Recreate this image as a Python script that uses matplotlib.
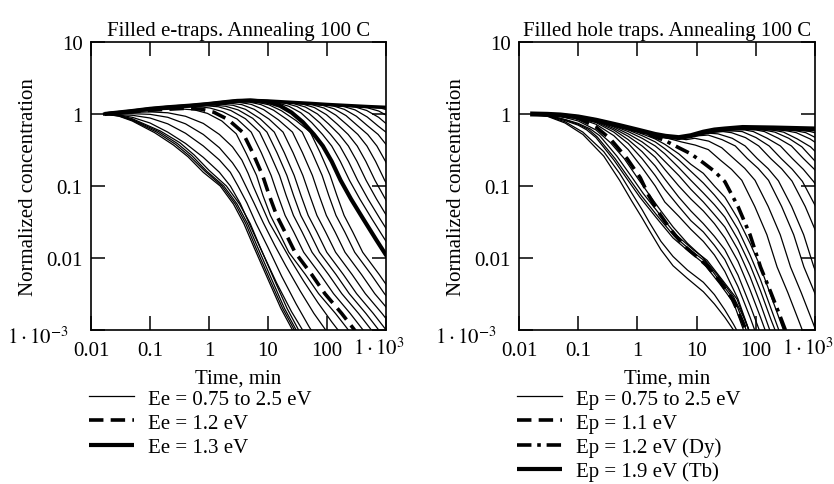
import matplotlib
matplotlib.use("Agg")
import matplotlib.pyplot as plt
from matplotlib.lines import Line2D
import matplotlib.ticker as mtick
import matplotlib.transforms as mtrans

plt.rcParams['font.family'] = ['Liberation Serif', 'DejaVu Serif']
plt.rcParams['mathtext.fontset'] = 'stix'

FS = 15

# ---------------- left panel: filled e-traps (t in min, normalized conc.) ----------------
e_env = [(0.017, 1.0), (0.03, 1.05), (0.05, 1.10), (0.1, 1.18), (0.2, 1.24), (0.5, 1.31), (1, 1.38),
         (2, 1.47), (3, 1.52), (5, 1.55), (10, 1.52), (20, 1.47), (50, 1.41), (100, 1.36),
         (200, 1.32), (500, 1.27), (1000, 1.24)]
e_top = [(0.017, 1.0), (0.05, 1.1), (0.1, 1.18), (0.2, 1.24), (0.5, 1.31), (1, 1.38), (2, 1.47)]

# low-energy bunch
e01 = [(0.017, 1.0), (0.03, 0.93), (0.05, 0.8), (0.12, 0.55), (0.25, 0.37), (0.44, 0.255), (0.8, 0.155),
       (1.55, 0.1), (2.6, 0.056), (3.9, 0.03), (5.8, 0.014), (10.4, 0.0047), (16.5, 0.002), (26, 0.001), (40, 0.0005)]
e02 = [(0.017, 1.0), (0.03, 0.94), (0.05, 0.82), (0.13, 0.56), (0.27, 0.38), (0.47, 0.26), (0.86, 0.16),
       (1.66, 0.1), (2.8, 0.056), (4.2, 0.03), (6.2, 0.014), (11.1, 0.0047), (17.7, 0.002), (28, 0.001), (43, 0.0005)]
e03 = [(0.017, 1.0), (0.03, 0.95), (0.05, 0.84), (0.14, 0.57), (0.29, 0.39), (0.51, 0.265), (0.92, 0.16),
       (1.78, 0.1), (3.0, 0.056), (4.5, 0.03), (6.7, 0.014), (12, 0.0047), (19, 0.002), (30, 0.001), (46, 0.0005)]
e04 = [(0.017, 1.0), (0.03, 0.96), (0.05, 0.86), (0.15, 0.58), (0.32, 0.4), (0.56, 0.27), (1.0, 0.165),
       (1.97, 0.1), (3.3, 0.056), (5.0, 0.03), (7.4, 0.014), (13.2, 0.0047), (21, 0.002), (33, 0.001), (50, 0.0005)]
e05 = [(0.017, 1.0), (0.03, 0.97), (0.05, 0.9), (0.1, 0.75), (0.2, 0.56), (0.4, 0.39), (0.8, 0.25), (1.5, 0.155),
       (2.3, 0.1), (3.4, 0.057), (5, 0.028), (8, 0.012), (14, 0.0045), (25, 0.0018), (40, 0.00095), (60, 0.0005)]
e06 = [(0.017, 1.0), (0.05, 0.96), (0.1, 0.88), (0.2, 0.73), (0.4, 0.54), (0.8, 0.36), (1.5, 0.23), (2.3, 0.155),
       (3.1, 0.1), (4.4, 0.058), (6.3, 0.03), (10, 0.014), (17, 0.0056), (30, 0.0023), (50, 0.0011), (80, 0.0006)]
e07 = [(0.017, 1.0), (0.05, 1.01), (0.1, 0.99), (0.2, 0.9), (0.4, 0.73), (0.8, 0.52), (1.5, 0.34), (2.5, 0.21),
       (3.3, 0.15), (4.2, 0.1), (5.8, 0.058), (8.3, 0.031), (13, 0.015), (20, 0.0078), (35, 0.0035), (60, 0.0017),
       (95, 0.001), (140, 0.0006)]
e08 = [(0.017, 1.0), (0.05, 1.05), (0.1, 1.07), (0.2, 1.04), (0.4, 0.93), (0.8, 0.74), (1.5, 0.52), (2.5, 0.35),
       (3.6, 0.23), (4.6, 0.15), (5.6, 0.1), (7.5, 0.058), (10.5, 0.031), (16, 0.017), (24, 0.0095), (40, 0.0048),
       (70, 0.0024), (120, 0.0013), (190, 0.0008)]
e09 = [(0.017, 1.0), (0.05, 1.08), (0.12, 1.14), (0.31, 1.18), (0.57, 1.14), (0.94, 1.02), (1.65, 0.8), (2.9, 0.53),
       (4.3, 0.28), (6.4, 0.14), (8.2, 0.074), (11, 0.039), (15.2, 0.023), (22.5, 0.012), (43, 0.0059), (72, 0.0032),
       (139, 0.0017), (220, 0.00105), (314, 0.0007)]
# Ee = 1.2 eV (dashed)
e_12 = [(0.017, 1.0), (0.05, 1.08), (0.15, 1.15), (0.4, 1.2), (0.73, 1.17), (1.2, 1.06), (2.1, 0.84), (3.7, 0.56),
        (5.5, 0.29), (8.1, 0.14), (10.5, 0.074), (14, 0.039), (19.4, 0.023), (28.7, 0.012), (55, 0.0059),
        (92, 0.0032), (177, 0.0017), (280, 0.00105), (400, 0.0007)]
e11 = [(0.017, 1.0), (0.05, 1.09), (0.1, 1.17), (0.2, 1.23), (0.39, 1.26), (0.65, 1.27), (1.04, 1.21), (1.69, 1.08),
       (3.0, 0.85), (5.2, 0.56), (7.7, 0.29), (11.3, 0.14), (14.7, 0.074), (19.5, 0.039), (27.3, 0.023),
       (40.3, 0.012), (76.7, 0.0059), (129, 0.0032), (247, 0.0017), (390, 0.00105), (560, 0.0007)]
e12 = [(0.017, 1.0), (0.05, 1.09), (0.1, 1.17), (0.2, 1.23), (0.54, 1.29), (0.9, 1.3), (1.44, 1.26), (2.34, 1.12),
       (4.14, 0.86), (7.2, 0.56), (10.6, 0.29), (15.7, 0.14), (20.3, 0.074), (27, 0.039), (37.8, 0.023),
       (55.8, 0.012), (106, 0.0059), (178, 0.0032), (342, 0.0017), (540, 0.00105), (774, 0.0007)]
e13 = [(0.017, 1.0), (0.05, 1.1), (0.1, 1.18), (0.2, 1.24), (0.72, 1.32), (1.2, 1.33), (1.92, 1.28), (3.12, 1.14),
       (5.52, 0.87), (9.6, 0.56), (14.2, 0.29), (20.9, 0.14), (27.1, 0.074), (36, 0.039), (50.4, 0.023),
       (74.4, 0.012), (142, 0.0059), (238, 0.0032), (456, 0.0017), (720, 0.00105), (1032, 0.0007)]
e14 = [(0.017, 1.0), (0.05, 1.1), (0.1, 1.18), (0.2, 1.24), (0.45, 1.3), (0.96, 1.35), (1.6, 1.37), (2.56, 1.32),
       (4.16, 1.16), (7.36, 0.86), (12.8, 0.56), (18.9, 0.29), (27.8, 0.14), (36.2, 0.074), (48, 0.039),
       (67.2, 0.023), (99.2, 0.012), (189, 0.0059), (317, 0.0032), (608, 0.0017), (960, 0.00105), (1376, 0.0007)]
e15 = [(0.017, 1.0), (0.05, 1.1), (0.1, 1.18), (0.2, 1.24), (0.5, 1.31), (1.35, 1.39), (2.25, 1.41), (3.6, 1.35),
       (5.85, 1.16), (10.4, 0.85), (18, 0.56), (26.6, 0.29), (39, 0.14), (51, 0.074), (67.5, 0.039), (94.5, 0.023),
       (140, 0.012), (266, 0.0059), (446, 0.0032), (855, 0.0017), (1350, 0.00105)]
e16 = [(0.017, 1.0), (0.05, 1.1), (0.1, 1.18), (0.2, 1.24), (0.5, 1.31), (1, 1.38), (1.95, 1.44), (3.25, 1.45),
       (5.2, 1.36), (8.45, 1.15), (15, 0.83), (26, 0.56), (38.4, 0.29), (56.6, 0.14), (73.5, 0.074), (97.5, 0.039),
       (137, 0.023), (202, 0.012), (384, 0.0059), (644, 0.0032), (1235, 0.0017)]
e17 = [(0.017, 1.0), (0.05, 1.1), (0.1, 1.18), (0.2, 1.24), (0.5, 1.31), (1, 1.38), (2.85, 1.48), (4.75, 1.47),
       (7.6, 1.35), (12.4, 1.13), (21.9, 0.82), (38, 0.56), (56, 0.29), (82.7, 0.14), (107, 0.074), (142, 0.039),
       (200, 0.023), (295, 0.012), (560, 0.0059), (940, 0.0032), (1800, 0.0017)]
e18 = [(0.017, 1.0), (0.05, 1.1), (0.1, 1.18), (0.2, 1.24), (0.5, 1.31), (1, 1.38), (2, 1.47), (3.9, 1.51),
       (6.5, 1.46), (10.4, 1.34), (16.9, 1.11), (29.9, 0.81), (52, 0.56), (76.7, 0.29), (113, 0.14), (147, 0.074),
       (195, 0.039), (273, 0.023), (403, 0.012), (767, 0.0059), (1287, 0.0032)]
# Ee = 1.3 eV (thick)
e_13 = [(0.017, 1.0), (0.05, 1.1), (0.1, 1.18), (0.2, 1.24), (0.5, 1.31), (1, 1.38), (2, 1.47), (3, 1.52),
        (5, 1.54), (10, 1.47), (16, 1.3), (25, 1.05), (39, 0.77), (60, 0.52), (85, 0.36), (120, 0.22),
        (170, 0.12), (255, 0.066), (410, 0.035), (680, 0.018), (1000, 0.011), (1200, 0.009)]
e20 = e_top + [(3, 1.52), (7.2, 1.51), (14.4, 1.43), (22.6, 1.28), (36, 1.04), (55, 0.76), (84, 0.52),
               (120, 0.36), (168, 0.22), (240, 0.12), (360, 0.066), (576, 0.035), (960, 0.018), (1440, 0.011)]
e21 = e_top + [(5, 1.55), (9.9, 1.49), (19.8, 1.41), (31, 1.27), (49.5, 1.02), (76, 0.75), (115, 0.52),
               (165, 0.36), (231, 0.22), (330, 0.12), (495, 0.066), (792, 0.035), (1320, 0.018)]
e22 = e_top + [(5, 1.55), (13.8, 1.46), (27.6, 1.39), (43, 1.25), (69, 1.0), (106, 0.73), (161, 0.52),
               (230, 0.36), (322, 0.22), (460, 0.12), (690, 0.066), (1100, 0.035)]
e23 = e_top + [(5, 1.55), (10, 1.52), (19.5, 1.44), (39, 1.37), (61, 1.23), (97.5, 0.98), (150, 0.72),
               (228, 0.52), (325, 0.36), (455, 0.22), (650, 0.12), (975, 0.066), (1560, 0.035)]
e24 = e_top + [(5, 1.55), (10, 1.52), (28.5, 1.42), (57, 1.34), (89, 1.21), (142, 0.96), (218, 0.71),
               (333, 0.52), (475, 0.36), (665, 0.22), (950, 0.12), (1425, 0.066)]
e25 = e_top + [(5, 1.55), (10, 1.52), (20, 1.47), (42, 1.39), (84, 1.32), (132, 1.18), (210, 0.95),
               (322, 0.7), (490, 0.52), (700, 0.36), (980, 0.22), (1400, 0.12)]
e26 = e_top + [(5, 1.55), (10, 1.52), (20, 1.47), (63, 1.37), (126, 1.3), (197, 1.16), (315, 0.93),
               (483, 0.69), (735, 0.52), (1050, 0.36)]
e27 = e_top + [(5, 1.55), (10, 1.52), (20, 1.47), (50, 1.41), (96, 1.33), (192, 1.27), (300, 1.14),
               (480, 0.91), (736, 0.68), (1120, 0.52)]
e28 = e_top + [(5, 1.55), (10, 1.52), (20, 1.47), (50, 1.41), (150, 1.31), (300, 1.25), (470, 1.12),
               (750, 0.9), (1150, 0.67)]
e29 = e_top + [(5, 1.55), (10, 1.52), (20, 1.47), (50, 1.41), (100, 1.36), (240, 1.28), (480, 1.22),
               (752, 1.1), (1200, 0.89)]
e30 = e_top + [(5, 1.55), (10, 1.52), (20, 1.47), (50, 1.41), (100, 1.36), (200, 1.32), (420, 1.25),
               (840, 1.2), (1316, 1.08)]

e_thin = [e01, e02, e03, e04, e05, e06, e07, e08, e09, e11, e12, e13, e14, e15, e16, e17, e18,
          e20, e21, e22, e23, e24, e25, e26, e27, e28, e29, e30]

# ---------------- right panel: filled hole traps ----------------
h_env = [(0.017, 1.0), (0.03, 0.99), (0.05, 0.97), (0.1, 0.91), (0.2, 0.82), (0.3, 0.76), (0.5, 0.69), (1, 0.6),
         (2, 0.52), (3, 0.49), (5, 0.47), (8, 0.5), (13, 0.56), (20, 0.6), (30, 0.62), (60, 0.65), (200, 0.64),
         (1000, 0.62)]
h_top = [(0.017, 1.0), (0.05, 0.97), (0.1, 0.91), (0.3, 0.76), (1, 0.6), (3, 0.49), (5, 0.47), (8, 0.5), (13, 0.56)]

# fast bunch
h01 = [(0.017, 1.0), (0.03, 0.93), (0.06, 0.75), (0.12, 0.52), (0.27, 0.26), (0.5, 0.12), (0.8, 0.062),
       (1.2, 0.036), (1.6, 0.024), (2.5, 0.013), (4, 0.0078), (7, 0.0052), (13, 0.0034), (20, 0.0023),
       (30, 0.0015), (42, 0.001), (60, 0.0006)]
h02 = [(0.017, 1.0), (0.03, 0.94), (0.06, 0.78), (0.12, 0.56), (0.27, 0.3), (0.5, 0.15), (0.8, 0.08),
       (1.2, 0.047), (1.6, 0.031), (2.5, 0.017), (4, 0.0105), (7, 0.0068), (13, 0.0046), (20, 0.0031),
       (30, 0.0019), (42, 0.0012), (60, 0.0007)]
h03 = [(0.017, 1.0), (0.03, 0.95), (0.06, 0.81), (0.1, 0.7), (0.14, 0.6), (0.2, 0.47), (0.4, 0.23), (0.67, 0.125),
       (1.1, 0.07), (2.1, 0.036), (4, 0.019), (7.7, 0.012), (13, 0.0085), (25, 0.0043), (42, 0.0024),
       (62, 0.001), (80, 0.0006)]
h04 = [(0.017, 1.0), (0.03, 0.96), (0.06, 0.83), (0.1, 0.72), (0.15, 0.61), (0.21, 0.48), (0.42, 0.24),
       (0.71, 0.13), (1.17, 0.073), (2.2, 0.038), (4.2, 0.02), (8.2, 0.0125), (14, 0.009), (26, 0.0045),
       (45, 0.0025), (66, 0.0011), (85, 0.0006)]
h05 = [(0.017, 1.0), (0.03, 0.96), (0.06, 0.84), (0.1, 0.74), (0.16, 0.62), (0.23, 0.5), (0.45, 0.26),
       (0.77, 0.14), (1.25, 0.079), (2.4, 0.04), (4.5, 0.021), (8.8, 0.013), (15, 0.0093), (28, 0.0048),
       (48, 0.0027), (70, 0.0012), (90, 0.0007)]
h06 = [(0.017, 1.0), (0.05, 0.93), (0.1, 0.8), (0.2, 0.6), (0.35, 0.4), (0.6, 0.24), (1, 0.13), (1.6, 0.075),
       (2.5, 0.045), (4, 0.027), (7, 0.016), (13, 0.01), (25, 0.0052), (42, 0.0029), (65, 0.0014), (90, 0.0007)]
# Ep = 1.1 eV (dashed)
h_11 = [(0.017, 1.0), (0.05, 0.96), (0.1, 0.87), (0.2, 0.66), (0.35, 0.45), (0.67, 0.24), (1.12, 0.13),
        (1.55, 0.074), (2.2, 0.045), (3.5, 0.026), (6, 0.015), (10, 0.0105), (15, 0.0078), (25, 0.0047),
        (40, 0.0027), (60, 0.0013), (80, 0.0007)]

# intermediate curves on a common time grid
h_mid_t = [0.017, 0.05, 0.1, 0.2, 0.4, 0.7, 1.2, 2, 2.9, 5, 8, 13, 20, 30, 50, 80, 120, 180, 270, 400]
m1 = [1.0, 0.96, 0.88, 0.72, 0.5, 0.32, 0.18, 0.1, 0.06, 0.038, 0.025, 0.017, 0.011, 0.0065, 0.0027, 0.0009, 0.0004]
m2 = [1.0, 0.97, 0.9, 0.76, 0.56, 0.39, 0.24, 0.14, 0.09, 0.052, 0.033, 0.023, 0.015, 0.0095, 0.004, 0.0015, 0.0006]
m3 = [1.0, 0.97, 0.9, 0.78, 0.6, 0.44, 0.3, 0.19, 0.125, 0.07, 0.045, 0.03, 0.02, 0.013, 0.0058, 0.0022, 0.0009,
      0.0004]
m4 = [1.0, 0.97, 0.91, 0.8, 0.63, 0.49, 0.36, 0.25, 0.17, 0.1, 0.066, 0.045, 0.03, 0.019, 0.009, 0.0036, 0.0015,
      0.0006]
m5 = [1.0, 0.97, 0.91, 0.81, 0.66, 0.53, 0.41, 0.3, 0.22, 0.14, 0.09, 0.06, 0.04, 0.027, 0.013, 0.0055, 0.0023,
      0.0009, 0.0004]
m6 = [1.0, 0.97, 0.91, 0.81, 0.68, 0.57, 0.46, 0.36, 0.28, 0.18, 0.12, 0.08, 0.055, 0.037, 0.018, 0.008, 0.0035,
      0.0014, 0.0006]
m7 = [1.0, 0.97, 0.91, 0.82, 0.7, 0.6, 0.5, 0.41, 0.33, 0.23, 0.16, 0.11, 0.075, 0.05, 0.025, 0.011, 0.005, 0.002,
      0.0008]
m8 = [1.0, 0.97, 0.91, 0.82, 0.71, 0.62, 0.53, 0.45, 0.38, 0.28, 0.2, 0.15, 0.1, 0.07, 0.035, 0.016, 0.0075, 0.003,
      0.0012, 0.0005]
# Ep = 1.2 eV (Dy), dash-dot
h_dy = [1.0, 0.97, 0.91, 0.82, 0.72, 0.64, 0.56, 0.48, 0.43, 0.34, 0.28, 0.21, 0.16, 0.115, 0.052, 0.021, 0.0075,
        0.0033, 0.0014, 0.0006]

n01 = [(0.017, 1.0), (0.05, 0.97), (0.1, 0.91), (0.3, 0.76), (1, 0.6), (1.6, 0.545), (4, 0.44), (5.5, 0.41),
       (9.5, 0.37), (15.8, 0.32), (25, 0.23), (39, 0.17), (58, 0.12), (96, 0.052), (154, 0.021), (229, 0.0075),
       (348, 0.0033), (521, 0.0014), (774, 0.0006)]
n02 = [(0.017, 1.0), (0.05, 0.97), (0.1, 0.91), (0.3, 0.76), (1, 0.6), (2.7, 0.5), (6.65, 0.44), (9.3, 0.46),
       (16, 0.42), (26.6, 0.34), (42.6, 0.24), (65, 0.176), (97, 0.12), (162, 0.052), (259, 0.021), (386, 0.0075),
       (585, 0.0033), (878, 0.0014), (1300, 0.0006)]
n03 = [(0.017, 1.0), (0.05, 0.97), (0.1, 0.91), (0.3, 0.76), (1, 0.6), (3, 0.49), (4.5, 0.465), (11.2, 0.5),
       (15.7, 0.51), (27, 0.44), (45, 0.36), (72, 0.24), (110, 0.175), (164, 0.12), (273, 0.052), (437, 0.021),
       (650, 0.0075), (986, 0.0033), (1478, 0.0014)]
n04 = [(0.017, 1.0), (0.05, 0.97), (0.1, 0.91), (0.3, 0.76), (1, 0.6), (3, 0.49), (5, 0.47), (6.6, 0.475),
       (16.5, 0.54), (23, 0.53), (40, 0.46), (66, 0.36), (106, 0.24), (162, 0.174), (241, 0.118), (403, 0.052),
       (644, 0.021), (957, 0.0075), (1452, 0.0033)]
n05 = h_top[:-1] + [(11, 0.535), (28, 0.57), (39, 0.55), (67, 0.47), (112, 0.36), (179, 0.24), (274, 0.173),
                    (409, 0.117), (683, 0.052), (1092, 0.021)]
n06 = h_top + [(17, 0.585), (42, 0.58), (59, 0.57), (101, 0.47), (168, 0.36), (269, 0.24), (412, 0.171),
               (613, 0.116), (1025, 0.052)]
n07 = h_top + [(20, 0.6), (26, 0.61), (65, 0.6), (91, 0.57), (156, 0.46), (260, 0.36), (416, 0.24), (637, 0.17),
               (949, 0.115), (1300, 0.075)]
n08 = h_top + [(20, 0.6), (30, 0.62), (40, 0.63), (100, 0.6), (140, 0.57), (240, 0.46), (400, 0.36), (640, 0.24),
               (980, 0.17), (1300, 0.13)]
n09 = h_top + [(20, 0.6), (30, 0.62), (60, 0.645), (150, 0.59), (210, 0.56), (360, 0.46), (600, 0.35),
               (960, 0.23), (1300, 0.18)]
n10 = h_top + [(20, 0.6), (30, 0.62), (60, 0.645), (84, 0.645), (210, 0.59), (294, 0.56), (504, 0.45),
               (840, 0.35), (1344, 0.24)]
n11 = h_top + [(20, 0.6), (30, 0.62), (60, 0.645), (138, 0.64), (345, 0.58), (483, 0.55), (828, 0.45),
               (1380, 0.34)]
n12 = h_top + [(20, 0.6), (30, 0.62), (60, 0.645), (200, 0.635), (500, 0.58), (700, 0.55), (1200, 0.44)]
n13 = h_top + [(20, 0.6), (30, 0.62), (60, 0.645), (200, 0.64), (334, 0.63), (835, 0.57), (1170, 0.53)]

h_thin = [h01, h02, h03, h04, h05, h06, n01, n02, n03, n04, n05, n06, n07, n08, n09, n10, n11, n12, n13]
h_mid = [m1, m2, m3, m4, m5, m6, m7, m8]

x_ticks = [0.01, 0.1, 1, 10, 100, 1000]
x_labels = ['0.01', '0.1', '1', '10', '100', r'$1\cdot10^{3}$']
y_ticks = [0.001, 0.01, 0.1, 1, 10]
y_labels = [r'$1\cdot10^{-3}$', '0.01', '0.1', '1', '10']

titles = ['Filled e-traps. Annealing 100 C', 'Filled hole traps. Annealing 100 C']
leg_e = ['Ee = 0.75 to 2.5 eV', 'Ee = 1.2 eV', 'Ee = 1.3 eV']
leg_h = ['Ep = 0.75 to 2.5 eV', 'Ep = 1.1 eV', 'Ep = 1.2 eV (Dy)', 'Ep = 1.9 eV (Tb)']

THIN = dict(color='black', lw=0.9)
DASH = dict(color='black', lw=2.6, dashes=(4, 2))
DASHDOT = dict(color='black', lw=2.6, dashes=(4, 1.6, 1, 1.6))
THICK = dict(color='black', lw=3.0, solid_capstyle='butt')


def draw(ax, pts, **kw):
    t, y = zip(*pts)
    ax.plot(t, y, **kw)


def style(ax, title, ylab_x):
    ax.set_xscale('log')
    ax.set_yscale('log')
    ax.set_xlim(0.01, 1000)
    ax.set_ylim(0.001, 10)
    ax.xaxis.set_major_locator(mtick.FixedLocator(x_ticks))
    ax.xaxis.set_major_formatter(mtick.FixedFormatter(x_labels))
    ax.yaxis.set_major_locator(mtick.FixedLocator(y_ticks))
    ax.yaxis.set_major_formatter(mtick.FixedFormatter(y_labels))
    ax.xaxis.set_minor_locator(mtick.NullLocator())
    ax.yaxis.set_minor_locator(mtick.NullLocator())
    ax.tick_params(which='major', direction='in', top=True, right=True, length=10, width=1.1, labelsize=FS)
    ax.tick_params(axis='x', pad=8)
    ax.tick_params(axis='y', pad=6)
    for s in ax.spines.values():
        s.set_linewidth(1.2)
    ax.set_title(title, fontsize=FS, pad=5)
    ax.set_xlabel('Time, min', fontsize=FS, labelpad=6)
    ax.set_ylabel('Normalized concentration', fontsize=FS)
    ax.yaxis.set_label_coords(ylab_x, 0.5)
    # nudge the power-of-ten labels as in the original layout
    fig.canvas.draw()
    ylbl = ax.get_yticklabels()[0]
    ylbl.set_transform(ylbl.get_transform() + mtrans.ScaledTranslation(-14 / 100, -5 / 100, fig.dpi_scale_trans))
    xlbl = ax.get_xticklabels()[-1]
    xlbl.set_transform(xlbl.get_transform() + mtrans.ScaledTranslation(-7 / 100, 4 / 100, fig.dpi_scale_trans))


fig = plt.figure(figsize=(8.34, 4.85), dpi=100)
axL = fig.add_axes([91 / 834, 154 / 485, 295 / 834, 288 / 485])
axR = fig.add_axes([519 / 834, 154 / 485, 296 / 834, 288 / 485])

# left
for c in e_thin:
    draw(axL, c, **THIN)
draw(axL, e_env, color='black', lw=2.4)
draw(axL, e_12, **DASH)
draw(axL, e_13, **THICK)
style(axL, titles[0], -0.18)

# right
for c in h_thin:
    draw(axR, c, **THIN)
for yv in h_mid:
    axR.plot(h_mid_t[:len(yv)], yv, **THIN)
draw(axR, h_11, **DASH)
axR.plot(h_mid_t, h_dy, **DASHDOT)
draw(axR, h_env, color='black', lw=3.6)
style(axR, titles[1], -0.178)

hL = [Line2D([], [], **THIN), Line2D([], [], **DASH), Line2D([], [], **THICK)]
hR = [Line2D([], [], **THIN), Line2D([], [], **DASH), Line2D([], [], **DASHDOT), Line2D([], [], **THICK)]
legkw = dict(loc='upper left', frameon=False, fontsize=FS, handlelength=2.15, handletextpad=0.7,
             labelspacing=0.22, borderpad=0, borderaxespad=0)
fig.legend(hL, leg_e, bbox_to_anchor=(89 / 834, 1 - 390 / 485), **legkw)
fig.legend(hR, leg_h, bbox_to_anchor=(517 / 834, 1 - 390 / 485), **legkw)

fig.savefig('out.png', dpi=100)
